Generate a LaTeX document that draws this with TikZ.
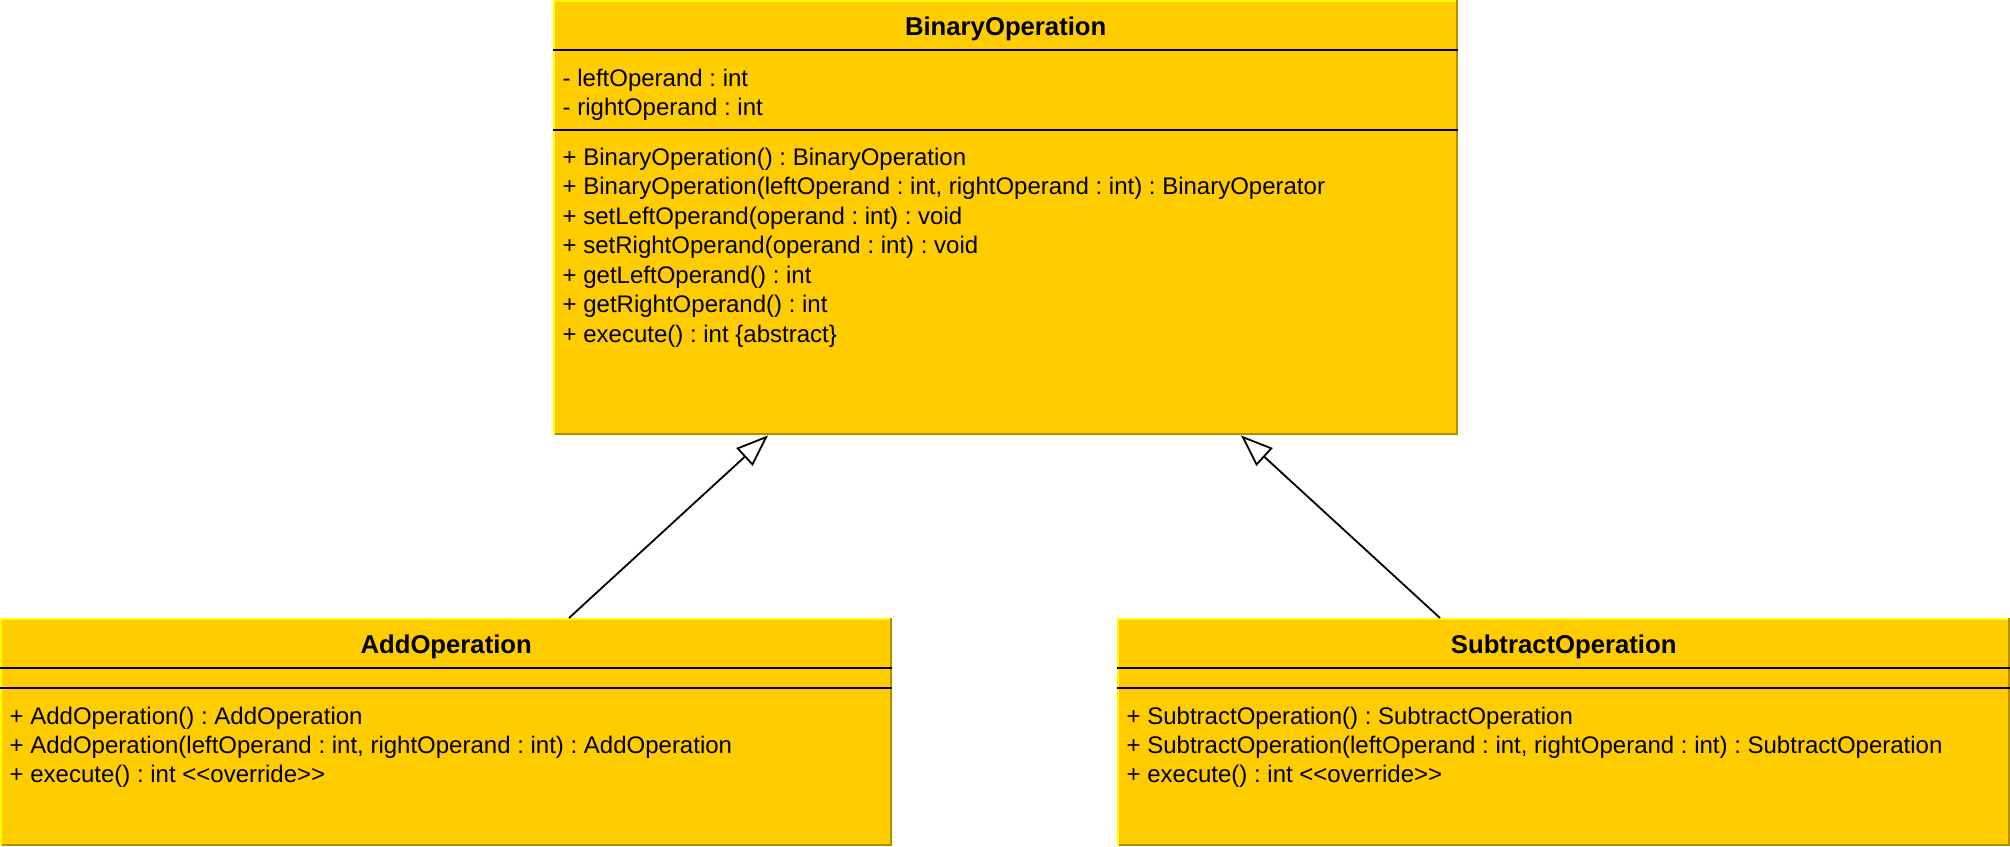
\documentclass[tikz,border=0pt]{standalone}
\usepackage{fontspec}
\setmainfont{Liberation Sans}
\usetikzlibrary{arrows.meta}
\definecolor{umlfill}{HTML}{FFCC00}
\definecolor{umllight}{HTML}{FFFF00}
\definecolor{umldark}{HTML}{B38F00}
\frenchspacing
\begin{document}
\begin{tikzpicture}[x=1pt,y=-1pt,
  classbox/.style={rectangle, fill=umlfill, draw=none, inner sep=0, anchor=north west},
  lightedge/.style={draw=umllight, line width=2pt},
  darkedge/.style={draw=umldark, line width=2pt},
  sepline/.style={draw=black, line width=2.2pt},
  classtitle/.style={anchor=base, inner sep=0, font=\bfseries\fontsize{25.7}{29}\selectfont},
  member/.style={anchor=base west, inner sep=0, font=\frenchspacing\fontsize{24}{29.5}\selectfont},
  inherit/.style={draw=black, line width=1.8pt, -{Triangle[length=32pt, width=24pt, fill=white, line width=1.8pt]}}
]
\useasboundingbox (0,0) rectangle (2010,846);

% ---------- BinaryOperation ----------
\node[classbox, minimum width=905pt, minimum height=435pt] (binop) at (553,0) {};
\draw[darkedge] ([xshift=-1pt]binop.north east) -- ([xshift=-1pt]binop.south east);
\draw[darkedge] ([yshift=1pt]binop.south west) -- ([yshift=1pt]binop.south east);
\draw[lightedge] ([xshift=1pt]binop.south west) -- ([xshift=1pt]binop.north west);
\draw[lightedge] ([yshift=-1pt]binop.north west) -- ([yshift=-1pt,xshift=-2pt]binop.north east);
\draw[sepline] ([yshift=-50pt]binop.north west) -- ([yshift=-50pt]binop.north east);
\draw[sepline] ([yshift=-130pt]binop.north west) -- ([yshift=-130pt]binop.north east);
\node[classtitle] (binopname) at ([yshift=-35pt]binop.north) {BinaryOperation};
\node[member] (ba1) at ([xshift=9.5pt,yshift=-86pt]binop.north west) {- leftOperand : int};
\node[member] (ba2) at ([xshift=9.5pt,yshift=-115.5pt]binop.north west) {- rightOperand : int};
\node[member] (bm1) at ([xshift=9.5pt,yshift=-165pt]binop.north west) {+ BinaryOperation() : BinaryOperation};
\node[member] (bm2) at ([xshift=9.5pt,yshift=-194.5pt]binop.north west) {+ BinaryOperation(leftOperand : int, rightOperand : int) : BinaryOperator};
\node[member] (bm3) at ([xshift=9.5pt,yshift=-224pt]binop.north west) {+ setLeftOperand(operand : int) : void};
\node[member] (bm4) at ([xshift=9.5pt,yshift=-253.5pt]binop.north west) {+ setRightOperand(operand : int) : void};
\node[member] (bm5) at ([xshift=9.5pt,yshift=-283pt]binop.north west) {+ getLeftOperand() : int};
\node[member] (bm6) at ([xshift=9.5pt,yshift=-312.5pt]binop.north west) {+ getRightOperand() : int};
\node[member] (bm7) at ([xshift=9.5pt,yshift=-342pt]binop.north west) {+ execute() : int \{abstract\}};

% ---------- AddOperation ----------
\node[classbox, minimum width=892pt, minimum height=228pt] (addop) at (0,618) {};
\draw[darkedge] ([xshift=-1pt]addop.north east) -- ([xshift=-1pt]addop.south east);
\draw[darkedge] ([yshift=1pt]addop.south west) -- ([yshift=1pt]addop.south east);
\draw[lightedge] ([xshift=1pt]addop.south west) -- ([xshift=1pt]addop.north west);
\draw[lightedge] ([yshift=-1pt]addop.north west) -- ([yshift=-1pt,xshift=-2pt]addop.north east);
\draw[sepline] ([yshift=-50pt]addop.north west) -- ([yshift=-50pt]addop.north east);
\draw[sepline] ([yshift=-70pt]addop.north west) -- ([yshift=-70pt]addop.north east);
\node[classtitle] (addopname) at ([yshift=-35pt]addop.north) {AddOperation};
\node[member] (am1) at ([xshift=9.5pt,yshift=-106pt]addop.north west) {+ AddOperation() : AddOperation};
\node[member] (am2) at ([xshift=9.5pt,yshift=-135pt]addop.north west) {+ AddOperation(leftOperand : int, rightOperand : int) : AddOperation};
\node[member] (am3) at ([xshift=9.5pt,yshift=-164pt]addop.north west) {+ execute() : int <\kern0pt<override>\kern0pt>};

% ---------- SubtractOperation ----------
\node[classbox, minimum width=893pt, minimum height=228pt] (subop) at (1117,618) {};
\draw[darkedge] ([xshift=-1pt]subop.north east) -- ([xshift=-1pt]subop.south east);
\draw[darkedge] ([yshift=1pt]subop.south west) -- ([yshift=1pt]subop.south east);
\draw[lightedge] ([xshift=1pt]subop.south west) -- ([xshift=1pt]subop.north west);
\draw[lightedge] ([yshift=-1pt]subop.north west) -- ([yshift=-1pt,xshift=-2pt]subop.north east);
\draw[sepline] ([yshift=-50pt]subop.north west) -- ([yshift=-50pt]subop.north east);
\draw[sepline] ([yshift=-70pt]subop.north west) -- ([yshift=-70pt]subop.north east);
\node[classtitle] (subopname) at ([yshift=-35pt]subop.north) {SubtractOperation};
\node[member] (sm1) at ([xshift=9.5pt,yshift=-106pt]subop.north west) {+ SubtractOperation() : SubtractOperation};
\node[member] (sm2) at ([xshift=9.5pt,yshift=-135pt]subop.north west) {+ SubtractOperation(leftOperand : int, rightOperand : int) : SubtractOperation};
\node[member] (sm3) at ([xshift=9.5pt,yshift=-164pt]subop.north west) {+ execute() : int <\kern0pt<override>\kern0pt>};

% ---------- generalisations ----------
\draw[inherit] ([xshift=569pt]addop.north west) -- ([xshift=215pt]binop.south west);
\draw[inherit] ([xshift=323pt]subop.north west) -- ([xshift=688pt]binop.south west);
\end{tikzpicture}
\end{document}
